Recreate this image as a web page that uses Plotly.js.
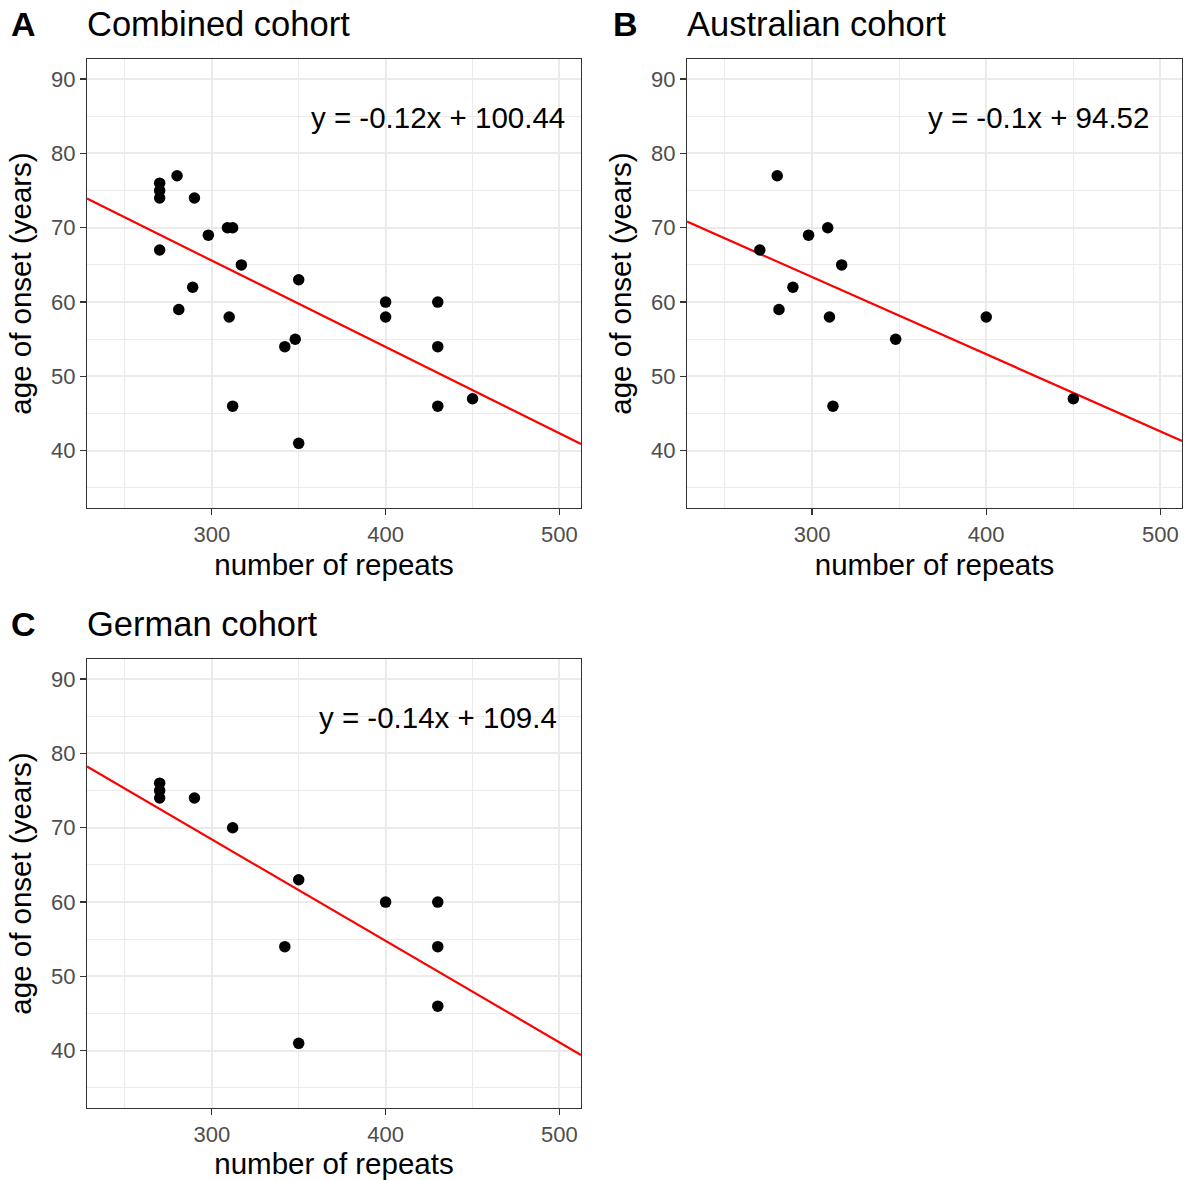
<!DOCTYPE html>
<html>
<head>
<meta charset="utf-8">
<script src="https://cdn.plot.ly/plotly-3.0.1.min.js"></script>
<style>html,body{margin:0;padding:0;background:#fff;}#chart{width:1188px;height:1180px;}</style>
</head>
<body>
<div id="chart"></div>
<script>
// ---- data ----
const combinedRepeats = [270,270,270,270,280,290,298,309,312,317,289,281,310,312,350,348,342,350,400,400,430,430,430,450];
const combinedOnset   = [76,75,74,67,77,74,69,70,70,65,62,59,58,46,63,55,54,41,60,58,60,54,46,47];
const australianRepeats = [270,280,298,309,317,289,281,310,312,348,400,450];
const australianOnset   = [67,77,69,70,65,62,59,58,46,55,58,47];
const germanRepeats = [270,270,270,290,312,350,342,350,400,430,430,430];
const germanOnset   = [76,75,74,74,70,63,54,41,60,60,54,46];
const panelLetters = ["A","B","C"];
const panelTitles = ["Combined cohort","Australian cohort","German cohort"];
const equations = ["y = -0.12x + 100.44","y = -0.1x + 94.52","y = -0.14x + 109.4"];
const xTicks = [300,400,500];
const xMinorTicks = [250,350,450];
const yTicks = [40,50,60,70,80,90];
const yMinorTicks = [35,45,55,65,75,85];
const xRange = [228.2,512.4];
const yRange = [32.3,92.7];
const eqPos = {x:430, y:84.8};

function fit(x,y){
  const n=x.length; const mx=x.reduce((a,b)=>a+b,0)/n; const my=y.reduce((a,b)=>a+b,0)/n;
  let sxy=0,sxx=0; for(let i=0;i<n;i++){sxy+=(x[i]-mx)*(y[i]-my); sxx+=(x[i]-mx)**2;}
  const b=sxy/sxx; return {b:b, a:my-b*mx};
}

const FONT = "Liberation Sans, Arial, Helvetica, sans-serif";
const sets = [[combinedRepeats,combinedOnset],[australianRepeats,australianOnset],[germanRepeats,germanOnset]];
const axes = [["x","y"],["x2","y2"],["x3","y3"]];
const traces = [];
sets.forEach((s,i)=>{
  const f = fit(s[0],s[1]);
  traces.push({x:xRange, y:xRange.map(v=>f.a+f.b*v), xaxis:axes[i][0], yaxis:axes[i][1], type:"scatter", mode:"lines",
    line:{color:"#ff0000", width:2.2}, showlegend:false, hoverinfo:"skip"});
  traces.push({x:s[0], y:s[1], xaxis:axes[i][0], yaxis:axes[i][1], type:"scatter", mode:"markers",
    marker:{color:"#000", size:11.5}, showlegend:false, hoverinfo:"x+y"});
});

const W=1188, H=1180;
const dom = [
  {x:[87/W,581/W], y:[1-508/H,1-59/H]},
  {x:[687/W,1182/W], y:[1-508/H,1-59/H]},
  {x:[87/W,581/W], y:[1-1108/H,1-659/H]}
];
function common(){
  return {ticks:"outside", ticklen:6, tickwidth:1.2, tickcolor:"#333",
    showline:true, mirror:true, linecolor:"#333", linewidth:1.2, showgrid:true, gridcolor:"#ebebeb", gridwidth:2, zeroline:false,
    tickfont:{family:FONT, size:22, color:"#4d4d4d"}, automargin:false, fixedrange:true};
}
function xa(i){
  return Object.assign(common(), {domain:dom[i].x, range:xRange, anchor:axes[i][1], tickvals:xTicks,
    minor:{tickvals:xMinorTicks, showgrid:true, gridcolor:"#ebebeb", gridwidth:1, ticks:""},
    title:{text:"number of repeats", font:{family:FONT, size:29.5, color:"#000"}, standoff:8}});
}
function ya(i){
  return Object.assign(common(), {domain:dom[i].y, range:yRange, anchor:axes[i][0], tickvals:yTicks,
    minor:{tickvals:yMinorTicks, showgrid:true, gridcolor:"#ebebeb", gridwidth:1, ticks:""},
    title:{text:"age of onset (years)", font:{family:FONT, size:29.5, color:"#000"}, standoff:10}});
}
const annotations = [];
const letterX = [9/W, 611/W, 9/W];
const titleX = [85/W, 685/W, 85/W];
const titleY = [1-24/H, 1-24/H, 1-624/H];
for(let i=0;i<3;i++){
  annotations.push({xref:"paper", yref:"paper", x:letterX[i], y:titleY[i], xanchor:"left", yanchor:"middle", showarrow:false,
    text:"<b>"+panelLetters[i]+"</b>", font:{family:FONT, size:34, color:"#000"}});
  annotations.push({xref:"paper", yref:"paper", x:titleX[i], y:titleY[i], xanchor:"left", yanchor:"middle", showarrow:false,
    text:panelTitles[i], font:{family:FONT, size:34.5, color:"#000"}});
  annotations.push({xref:axes[i][0], yref:axes[i][1], x:eqPos.x, y:eqPos.y, xanchor:"center", yanchor:"middle", showarrow:false,
    text:equations[i], font:{family:FONT, size:29.5, color:"#000"}});
}
const layout = {width:W, height:H, margin:{l:0,r:0,t:0,b:0}, paper_bgcolor:"#fff", plot_bgcolor:"#fff",
  showlegend:false, annotations:annotations,
  xaxis:xa(0), yaxis:ya(0), xaxis2:xa(1), yaxis2:ya(1), xaxis3:xa(2), yaxis3:ya(2)};
Plotly.newPlot("chart", traces, layout, {displayModeBar:false, staticPlot:true});
</script>
</body>
</html>
